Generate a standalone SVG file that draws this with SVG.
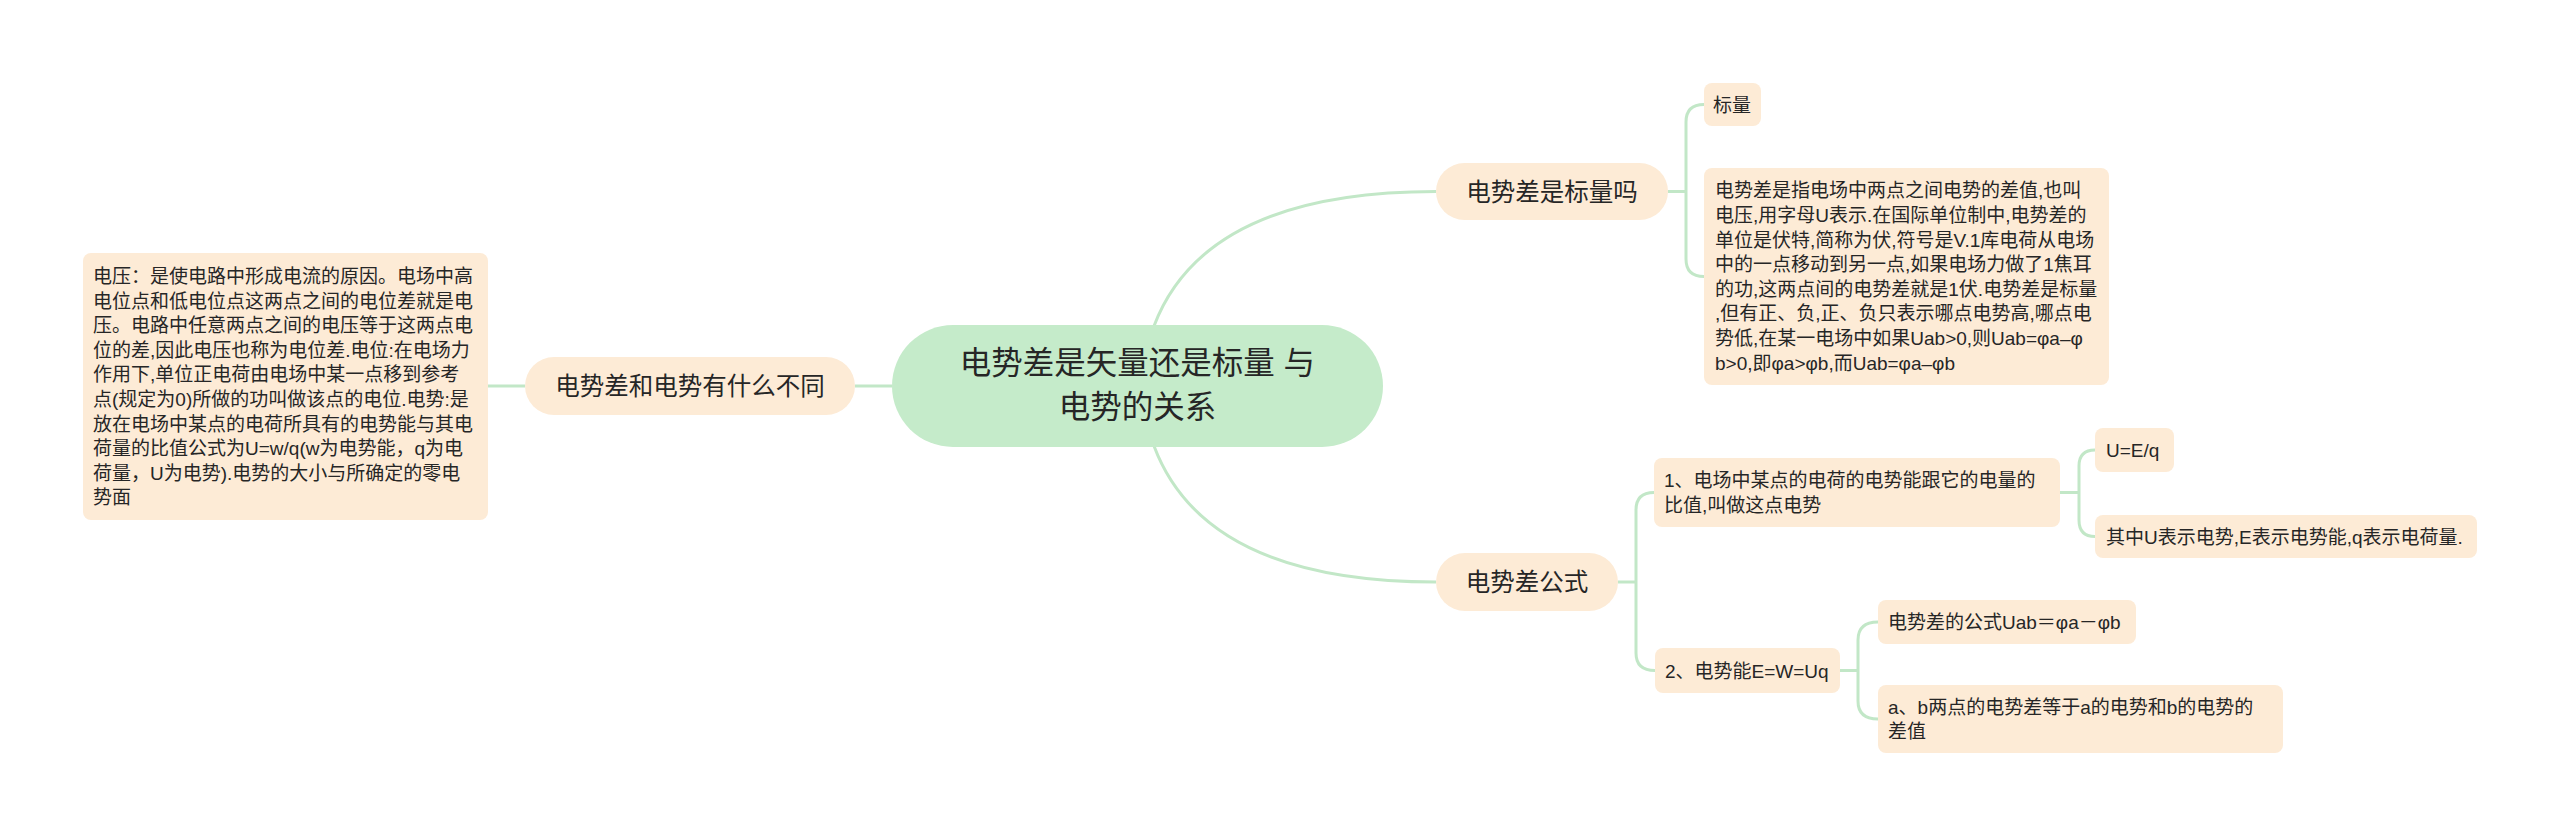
<svg xmlns="http://www.w3.org/2000/svg" width="2560" height="837" viewBox="0 0 2560 837">
<style>
text{font-family:"Liberation Sans","Noto Sans CJK SC",sans-serif;fill:#262626;}
.c{font-size:31.5px;text-anchor:middle;}
.m{font-size:24.5px;text-anchor:middle;}
.s{font-size:19px;}
.pill{fill:#fdebd6;}
.box{fill:#fdebd6;}
.root{fill:#c5ebca;}
.ln{fill:none;stroke:#c2e7c7;stroke-width:3;}
</style>
<rect width="2560" height="837" fill="#ffffff"/>
<g id="connectors">
<path class="ln" d="M1154,326 Q1205,191.5 1436,191.5"/>
<path class="ln" d="M1154,446 Q1205,582 1436,582"/>
<path class="ln" d="M892,386 H855"/>
<path class="ln" d="M525,386 H488"/>
<path class="ln" d="M1668,191.5 H1686"/>
<path class="ln" d="M1704,104.5 Q1686,104.5 1686,122 V259 Q1686,276.5 1704,276.5"/>
<path class="ln" d="M1618,582 H1636"/>
<path class="ln" d="M1654,492.5 Q1636,492.5 1636,510 V653 Q1636,670.5 1655,670.5"/>
<path class="ln" d="M2060,492.5 H2079"/>
<path class="ln" d="M2095,450 Q2079,450 2079,466 V520 Q2079,536.5 2095,536.5"/>
<path class="ln" d="M1840,670.5 H1858"/>
<path class="ln" d="M1878,622 Q1858,622 1858,640 V701 Q1858,719 1878,719"/>
</g>
<g id="root">
<rect class="root" x="892" y="325" width="491" height="122" rx="61"/>
<text class="c" x="1137.5" y="374">电势差是矢量还是标量 与</text>
<text class="c" x="1137.5" y="418">电势的关系</text>
</g>
<g id="n-biaoliang-ma">
<rect class="pill" x="1436" y="163" width="232" height="57" rx="28.5"/>
<text class="m" x="1552" y="200.5">电势差是标量吗</text>
</g>
<g id="n-gongshi">
<rect class="pill" x="1436" y="553" width="182" height="58" rx="29"/>
<text class="m" x="1527" y="591">电势差公式</text>
</g>
<g id="n-butong">
<rect class="pill" x="525" y="357" width="330" height="58" rx="29"/>
<text class="m" x="690" y="395">电势差和电势有什么不同</text>
</g>
<g id="n-left-text">
<rect class="box" x="83" y="253" width="405" height="267" rx="8"/>
<text class="s" x="93" y="283">电压：是使电路中形成电流的原因。电场中高</text>
<text class="s" x="93" y="307.6">电位点和低电位点这两点之间的电位差就是电</text>
<text class="s" x="93" y="332.2">压。电路中任意两点之间的电压等于这两点电</text>
<text class="s" x="93" y="356.8">位的差,因此电压也称为电位差.电位:在电场力</text>
<text class="s" x="93" y="381.4">作用下,单位正电荷由电场中某一点移到参考</text>
<text class="s" x="93" y="406">点(规定为0)所做的功叫做该点的电位.电势:是</text>
<text class="s" x="93" y="430.6">放在电场中某点的电荷所具有的电势能与其电</text>
<text class="s" x="93" y="455.2">荷量的比值公式为U=w/q(w为电势能，q为电</text>
<text class="s" x="93" y="479.8">荷量，U为电势).电势的大小与所确定的零电</text>
<text class="s" x="93" y="504.4">势面</text>
</g>
<g id="n-biaoliang">
<rect class="box" x="1704" y="83" width="57" height="43" rx="8"/>
<text class="s" x="1713" y="111.5">标量</text>
</g>
<g id="n-def">
<rect class="box" x="1704" y="168" width="405" height="217" rx="8"/>
<text class="s" x="1715" y="197.4">电势差是指电场中两点之间电势的差值,也叫</text>
<text class="s" x="1715" y="222">电压,用字母U表示.在国际单位制中,电势差的</text>
<text class="s" x="1715" y="246.6">单位是伏特,简称为伏,符号是V.1库电荷从电场</text>
<text class="s" x="1715" y="271.2">中的一点移动到另一点,如果电场力做了1焦耳</text>
<text class="s" x="1715" y="295.8">的功,这两点间的电势差就是1伏.电势差是标量</text>
<text class="s" x="1715" y="320.4">,但有正、负,正、负只表示哪点电势高,哪点电</text>
<text class="s" x="1715" y="345">势低,在某一电场中如果Uab&gt;0,则Uab=φa–φ</text>
<text class="s" x="1715" y="369.6">b&gt;0,即φa&gt;φb,而Uab=φa–φb</text>
</g>
<g id="n-f1">
<rect class="box" x="1654" y="458" width="406" height="69" rx="8"/>
<text class="s" x="1664" y="487.2">1、电场中某点的电荷的电势能跟它的电量的</text>
<text class="s" x="1664" y="511.8">比值,叫做这点电势</text>
</g>
<g id="n-ueq">
<rect class="box" x="2095" y="428" width="79" height="44" rx="8"/>
<text class="s" x="2106" y="457">U=E/q</text>
</g>
<g id="n-qizhong">
<rect class="box" x="2095" y="515" width="382" height="43" rx="8"/>
<text class="s" x="2106" y="543.5">其中U表示电势,E表示电势能,q表示电荷量.</text>
</g>
<g id="n-f2">
<rect class="box" x="1655" y="648" width="185" height="45" rx="8"/>
<text class="s" x="1665" y="677.5">2、电势能E=W=Uq</text>
</g>
<g id="n-uab">
<rect class="box" x="1878" y="600" width="258" height="44" rx="8"/>
<text class="s" x="1888" y="629">电势差的公式Uab＝φa－φb</text>
</g>
<g id="n-ab">
<rect class="box" x="1878" y="685" width="405" height="68" rx="8"/>
<text class="s" x="1888" y="713.7">a、b两点的电势差等于a的电势和b的电势的</text>
<text class="s" x="1888" y="738.3">差值</text>
</g>
</svg>
